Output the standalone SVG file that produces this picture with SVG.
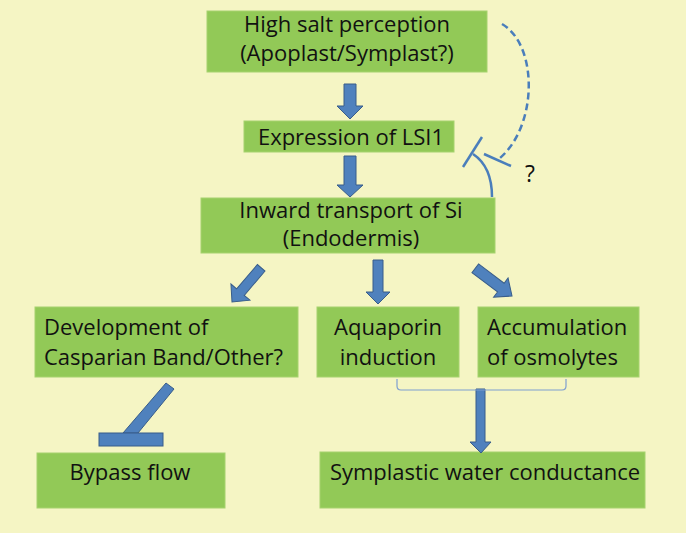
<svg xmlns="http://www.w3.org/2000/svg" width="686" height="533" viewBox="0 0 686 533">
<style>
.bg{fill:#f5f5c4}
.box{fill:#92c957;stroke:#a6d26e;stroke-width:1}
.t{font-family:"Open Sans","Noto Sans",sans-serif;font-size:22px;fill:#111}
.c{text-anchor:middle}
.arr{fill:#4f81bd;stroke:#385d8a;stroke-width:1}
.inh{fill:none;stroke:#4a7ebb;stroke-width:2.5}
.brk{fill:none;stroke:#7f9fd0;stroke-width:1.2}
</style>
<rect class="bg" x="0" y="0" width="686" height="533"/>
<g id="n1"><rect class="box" x="207" y="11" width="280" height="61"/><text class="t c" x="347" y="32">High salt perception</text><text class="t c" x="347" y="61">(Apoplast/Symplast?)</text></g>
<g id="n2"><rect class="box" x="244" y="121" width="210" height="31"/><text class="t c" x="351" y="145">Expression of LSI1</text></g>
<g id="n3"><rect class="box" x="201" y="198" width="294" height="55"/><text class="t c" x="351" y="218">Inward transport of Si</text><text class="t c" x="351" y="246">(Endodermis)</text></g>
<g id="n4"><rect class="box" x="35" y="307" width="263" height="70"/><text class="t" x="44" y="335">Development of</text><text class="t" x="44" y="365">Casparian Band/Other?</text></g>
<g id="n5"><rect class="box" x="317" y="307" width="142" height="70"/><text class="t c" x="388" y="335">Aquaporin</text><text class="t c" x="388" y="365">induction</text></g>
<g id="n6"><rect class="box" x="478" y="307" width="161" height="70"/><text class="t" x="487" y="335">Accumulation</text><text class="t" x="487" y="365">of osmolytes</text></g>
<g id="n7"><rect class="box" x="37" y="453" width="188" height="55"/><text class="t c" x="130" y="480">Bypass flow</text></g>
<g id="n8"><rect class="box" x="320" y="452" width="325" height="56"/><text class="t c" x="485" y="480">Symplastic water conductance</text></g>
<g id="connectors">
<polygon class="arr" points="344,84 356,84 356,106 363,106 350,119 337,106 344,106"/>
<polygon class="arr" points="344,156 356,156 356,185 363,185 350,197 337,185 344,185"/>
<polygon class="arr" points="373,260 383,260 383,292 390,292 378,304 366,292 373,292"/>
<polygon class="arr" points="476,389 485,389 485,442 491,442 481,453 470,442 476,442"/>
<polygon class="arr" transform="translate(512,296) rotate(37)" points="-46,-5.5 -14,-5.5 -14,-12 0,0 -14,12 -14,5.5 -46,5.5"/>
<polygon class="arr" transform="translate(232,302) rotate(130.5)" points="-45,-5 -13,-5 -13,-12.5 0,0 -13,12.5 -13,5 -45,5"/>
<polygon class="arr" points="166,383 174,389 138,433 123,433"/>
<rect class="arr" x="99" y="433" width="64" height="13"/>
<path class="brk" d="M397,379 L397,386 Q397,390 401,390 L562,390 Q566,390 566,386 L566,379"/>
<path class="inh" stroke-dasharray="7,4" d="M502,24 C538,45 538,125 500,158"/>
<line class="inh" x1="484" y1="154" x2="511" y2="166"/>
<path class="inh" d="M492,197 C492,175 485,162 473,154"/>
<line class="inh" x1="463" y1="167" x2="482" y2="137"/>
</g>
<text class="t c" x="530" y="182" style="font-size:23px">?</text>
</svg>
